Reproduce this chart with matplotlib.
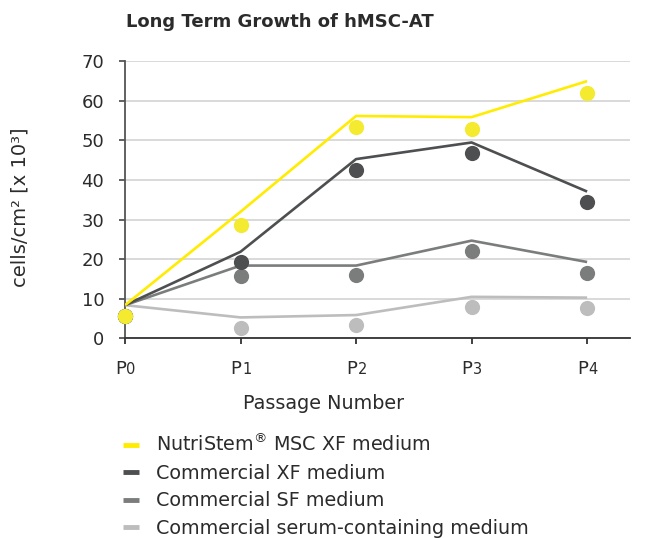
import matplotlib
matplotlib.use("Agg")
import matplotlib.pyplot as plt
from matplotlib.lines import Line2D

plt.rcParams['font.family'] = ['DejaVu Sans']

passages = [0, 1, 2, 3, 4]
passage_digits = ['0', '1', '2', '3', '4']

labels = ['NutriStem$^{\\mathregular{®}}$ MSC XF medium',
          'Commercial XF medium',
          'Commercial SF medium',
          'Commercial serum-containing medium']

# line values (fit) and measured points
nutri_line = [8.4, 32.0, 56.2, 55.9, 65.0]
nutri_pts = [5.7, 28.7, 53.4, 53.0, 62.1]
xf_line = [8.4, 21.9, 45.3, 49.5, 37.1]
xf_pts = [5.7, 19.2, 42.6, 46.8, 34.4]
sf_line = [8.4, 18.4, 18.4, 24.7, 19.3]
sf_pts = [5.7, 15.8, 15.9, 22.0, 16.6]
serum_line = [8.4, 5.3, 5.9, 10.5, 10.3]
serum_pts = [5.7, 2.6, 3.4, 7.9, 7.6]

line_colors = ['#FFEC00', '#4E4F51', '#7B7D7D', '#BDBDBD']
dot_colors = ['#F4EA2F', '#4E4F51', '#7B7D7D', '#BDBDBD']
txt = '#2b2b2b'

fig = plt.figure(figsize=(6.48, 5.38), dpi=100)
ax = fig.add_axes([0.193, 0.371, 0.779, 0.515])

series = [(serum_line, serum_pts), (sf_line, sf_pts), (xf_line, xf_pts), (nutri_line, nutri_pts)]
cols = list(zip(line_colors, dot_colors))[::-1]
for (ln, pts), (lc, dc) in zip(series, cols):
    ax.plot(passages, ln, color=lc, lw=1.9, zorder=3, solid_capstyle='butt')
    ax.scatter(passages, pts, s=120, color=dc, zorder=4, clip_on=False, linewidths=0)

ax.set_xlim(0, 4.37)
ax.set_ylim(0, 70)
ax.set_yticks(range(0, 71, 10))
ax.yaxis.grid(True, color='#D3D3D3', lw=1.2)
ax.set_axisbelow(True)
for s in ['top', 'right']:
    ax.spines[s].set_visible(False)
ax.spines['left'].set_color('#555555')
ax.spines['bottom'].set_color('#333333')
ax.spines['left'].set_linewidth(1.3)
ax.spines['bottom'].set_linewidth(1.3)
ax.tick_params(axis='y', length=4, width=1.3, color='#555555', labelsize=13,
               labelcolor=txt, pad=11)
ax.tick_params(axis='x', length=4, width=1.3, color='#333333', labelbottom=False)
ax.set_xticks(passages)

# P with small digit, as in the original tick labels
for p, d in zip(passages, passage_digits):
    ax.annotate('P', xy=(p, 0), xycoords=('data', 'axes fraction'), xytext=(0.5, -25.5),
                textcoords='offset points', ha='right', va='baseline', fontsize=13, color=txt)
    ax.annotate(d, xy=(p, 0), xycoords=('data', 'axes fraction'), xytext=(1.0, -25.5),
                textcoords='offset points', ha='left', va='baseline', fontsize=10.5, color=txt)

fig.text(0.5, 1 - 409 / 538, 'Passage Number', ha='center', va='baseline',
         fontsize=13.8, color=txt)
fig.text(20 / 648, 1 - 207 / 538, 'cells/cm² [x 10³]', rotation=90, ha='center', va='center',
         fontsize=14, color=txt)
fig.text(126 / 648, 1 - 27 / 538, 'Long Term Growth of hMSC-AT', ha='left', va='baseline',
         fontsize=13, fontweight='bold', color=txt)

handles = [Line2D([], [], color=c, lw=3.5, solid_capstyle='butt') for c in line_colors]
fig.legend(handles, labels, loc='upper left', bbox_to_anchor=(106 / 648, 1 - 416 / 538),
           frameon=False, fontsize=13.8, handlelength=0.8, handletextpad=0.9,
           labelspacing=0.44, labelcolor=txt)

fig.savefig('out.png', dpi=100)
